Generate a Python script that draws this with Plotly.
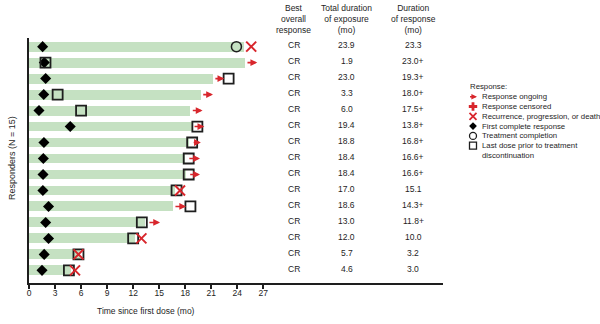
import plotly.graph_objects as go

# ---------------- data ----------------
n_rows = 15
row_y = [n_rows - i for i in range(n_rows)]          # row 1 at top
best_response = ["CR"] * n_rows
exposure = [23.9, 1.9, 23.0, 3.3, 6.0, 19.4, 18.8, 18.4, 18.4, 17.0, 18.6, 13.0, 12.0, 5.7, 4.6]
duration_label = ["23.3", "23.0+", "19.3+", "18.0+", "17.5+", "13.8+", "16.8+", "16.6+",
                  "16.6+", "15.1", "14.3+", "11.8+", "10.0", "3.2", "3.0"]
exposure_label = ["23.9", "1.9", "23.0", "3.3", "6.0", "19.4", "18.8", "18.4", "18.4",
                  "17.0", "18.6", "13.0", "12.0", "5.7", "4.6"]
first_cr = [1.57, 1.76, 1.92, 1.7, 1.15, 4.75, 1.72, 1.65, 1.62, 1.6, 2.25, 1.92, 2.25, 1.75, 1.5]
bar_end = [24.8, 24.9, 21.2, 19.8, 18.6, 18.9, 18.4, 18.0, 18.05, 16.8, 16.6, 13.4, 12.2, 5.9, 4.8]

completion_rows = [1]                      # treatment completion (circle)
lastdose_rows = [2, 3, 4, 5, 6, 7, 8, 9, 10, 11, 12, 13, 14, 15]
progression_rows = [1, 10, 13, 14, 15]
progression_x = [25.6, 17.4, 12.95, 5.7, 5.3]
ongoing_rows = [2, 3, 4, 5, 6, 7, 8, 9, 11, 12]
ongoing_tail = [25.0, 21.3, 19.9, 18.7, 18.9, 18.8, 18.3, 18.4, 16.7, 13.7]
ongoing_head = [26.3, 22.5, 21.2, 20.0, 20.2, 19.8, 19.7, 19.7, 18.1, 15.1]

x_ticks = [0, 3, 6, 9, 12, 15, 18, 21, 24, 27]
headers = ["Best<br>overall<br>response", "Total duration<br>of exposure<br>(mo)",
           "Duration<br>of response<br>(mo)"]
legend_labels = ["Response ongoing", "Response censored", "Recurrence, progression, or death",
                 "First complete response", "Treatment completion",
                 "Last dose prior to treatment<br>discontinuation"]

# ---------------- style ----------------
FONT = "Liberation Sans, Arial, sans-serif"
GREEN = "#c5e1c2"
RED = "#d8262c"
DARK = "#1e1e1e"
W, H = 600, 324
ML, MR, MT, MB = 29, 0, 38, 41
PW = W - ML - MR
PH = H - MT - MB
X_END_PX = 443
XMAX = 47.7
table_cols = [30.5, 36.6, 44.3]


def py(px):  # pixel y -> paper y
    return (H - MB - px) / PH


def px_(px):  # pixel x -> paper x
    return (px - ML) / PW


def ry(r):
    return row_y[r - 1]


fig = go.Figure()

# bars
fig.add_trace(go.Bar(x=bar_end, y=row_y, base=0, orientation="h", width=0.62,
                     marker=dict(color=GREEN, line=dict(width=0)), showlegend=False,
                     hoverinfo="skip"))
# first CR diamonds
fig.add_trace(go.Scatter(x=first_cr, y=row_y, mode="markers",
                         marker=dict(symbol="diamond", size=8.5, color="black"),
                         showlegend=False))
# last dose squares
fig.add_trace(go.Scatter(x=[exposure[r - 1] for r in lastdose_rows],
                         y=[ry(r) for r in lastdose_rows], mode="markers",
                         marker=dict(symbol="square-open", size=10,
                                     line=dict(color=DARK, width=1.8), color=DARK),
                         showlegend=False))
# completion circle
fig.add_trace(go.Scatter(x=[exposure[r - 1] for r in completion_rows],
                         y=[ry(r) for r in completion_rows], mode="markers",
                         marker=dict(symbol="circle-open", size=10,
                                     line=dict(color=DARK, width=1.5), color=DARK),
                         showlegend=False))
# progression X
fig.add_trace(go.Scatter(x=progression_x, y=[ry(r) for r in progression_rows], mode="markers",
                         marker=dict(symbol="x-thin-open", size=10,
                                     line=dict(color=RED, width=2), color=RED),
                         showlegend=False))

annotations = []
# ongoing arrows
for r, t, h in zip(ongoing_rows, ongoing_tail, ongoing_head):
    annotations.append(dict(x=h, y=ry(r), ax=t, ay=ry(r), xref="x", yref="y",
                            axref="x", ayref="y", text="", showarrow=True,
                            arrowhead=2, arrowsize=0.85, arrowwidth=1.6, arrowcolor=RED,
                            standoff=0, startstandoff=0))

# table values
for i in range(n_rows):
    for col, txt in zip(table_cols, [best_response[i], exposure_label[i], duration_label[i]]):
        annotations.append(dict(x=col, y=row_y[i], xref="x", yref="y", text=txt,
                                showarrow=False, yshift=1.5,
                                font=dict(family=FONT, size=8.5, color=DARK)))
# table headers
for col, txt in zip(table_cols, headers):
    annotations.append(dict(x=col, y=py(19.5), xref="x", yref="paper", text=txt,
                            showarrow=False, yanchor="middle",
                            font=dict(family=FONT, size=8.5, color=DARK)))

# axis titles
annotations.append(dict(x=px_(12), y=py(158), xref="paper", yref="paper",
                        text="Responders (N = 15)", textangle=-90, showarrow=False,
                        xanchor="center", yanchor="middle",
                        font=dict(family=FONT, size=9, color=DARK)))
annotations.append(dict(x=13.5, y=py(311), xref="x", yref="paper",
                        text="Time since first dose (mo)", showarrow=False,
                        xanchor="center", yanchor="middle",
                        font=dict(family=FONT, size=8.5, color=DARK)))

# ---------------- legend (manual key) ----------------
LEG_MX = 473
LEG_TX = 479.5
LEG_FS = 7.8
leg_y = [96.7, 106.5, 116.3, 126.1, 135.9, 145.7]
annotations.append(dict(x=468, y=86.7, xref="x2", yref="y2", text="Response:",
                        showarrow=False, xanchor="left",
                        font=dict(family=FONT, size=LEG_FS, color=DARK)))
for i, lab in enumerate(legend_labels):
    yy = leg_y[i] if i < 5 else leg_y[i] + 4.9
    annotations.append(dict(x=LEG_TX, y=yy, xref="x2", yref="y2", text=lab,
                            showarrow=False, xanchor="left", align="left",
                            font=dict(family=FONT, size=LEG_FS, color=DARK)))
annotations.append(dict(x=LEG_MX + 4, y=leg_y[0], ax=LEG_MX - 4.5, ay=leg_y[0],
                        xref="x2", yref="y2", axref="x2", ayref="y2", text="",
                        showarrow=True, arrowhead=2, arrowsize=0.75, arrowwidth=1.5,
                        arrowcolor=RED, standoff=0, startstandoff=0))
fig.add_trace(go.Scatter(x=[LEG_MX], y=[leg_y[1]], xaxis="x2", yaxis="y2", mode="markers",
                         marker=dict(symbol="cross", size=7, color=RED), showlegend=False))
fig.add_trace(go.Scatter(x=[LEG_MX], y=[leg_y[2]], xaxis="x2", yaxis="y2", mode="markers",
                         marker=dict(symbol="x-thin-open", size=7, color=RED,
                                     line=dict(color=RED, width=1.8)), showlegend=False))
fig.add_trace(go.Scatter(x=[LEG_MX], y=[leg_y[3]], xaxis="x2", yaxis="y2", mode="markers",
                         marker=dict(symbol="diamond", size=6, color="black"), showlegend=False))
fig.add_trace(go.Scatter(x=[LEG_MX], y=[leg_y[4]], xaxis="x2", yaxis="y2", mode="markers",
                         marker=dict(symbol="circle-open", size=7, color=DARK,
                                     line=dict(color=DARK, width=1.3)), showlegend=False))
fig.add_trace(go.Scatter(x=[LEG_MX], y=[leg_y[5]], xaxis="x2", yaxis="y2", mode="markers",
                         marker=dict(symbol="square-open", size=7, color=DARK,
                                     line=dict(color=DARK, width=1.3)), showlegend=False))

fig.update_layout(
    width=W, height=H,
    margin=dict(l=ML, r=MR, t=MT, b=MB, pad=0),
    paper_bgcolor="white", plot_bgcolor="white",
    font=dict(family=FONT, size=8.5, color=DARK),
    xaxis=dict(domain=[0, (X_END_PX - ML) / PW], range=[0, XMAX], tickvals=x_ticks,
               ticktext=[str(t) for t in x_ticks], showline=True, linecolor=DARK,
               linewidth=2, ticks="outside", ticklen=4, tickwidth=1.5, tickcolor=DARK,
               ticklabelstandoff=-3,
               showgrid=False, zeroline=False, tickfont=dict(size=8.5, family=FONT, color=DARK),
               fixedrange=True),
    yaxis=dict(range=[0.21, 15.54], showline=True, linecolor=DARK, linewidth=2,
               showticklabels=False, ticks="", showgrid=False, zeroline=False, fixedrange=True),
    xaxis2=dict(domain=[(X_END_PX - ML) / PW, 1], range=[X_END_PX, W], anchor="y2",
                visible=False, fixedrange=True),
    yaxis2=dict(domain=[0, 1], range=[H - MB, MT], anchor="x2", visible=False,
                fixedrange=True),
    annotations=annotations,
    showlegend=False,
    bargap=0,
)

fig.write_html("out.html")
